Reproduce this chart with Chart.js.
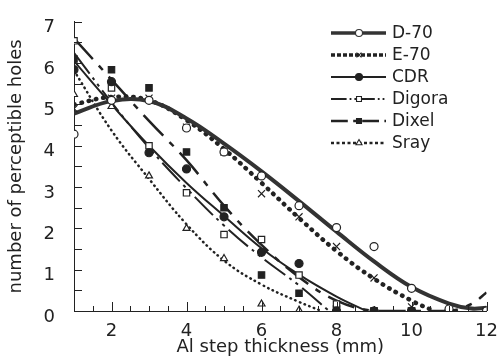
<!DOCTYPE html>
<html>
<head>
<meta charset="utf-8">
<script src="https://cdn.jsdelivr.net/npm/chart.js@4.4.1/dist/chart.umd.min.js"></script>
<style>
  html, body { margin: 0; padding: 0; background: #fff; }
  #wrap { width: 500px; height: 358px; }
</style>
</head>
<body>
<div id="wrap"><canvas id="c"></canvas></div>
<script>
// measured points (x = Al step, mm)
var steps = [1, 2, 3, 4, 5, 6, 7, 8, 9, 10, 11, 12];
var d70 = [4.28, 5.1, 5.1, 4.43, 3.85, 3.27, 2.55, 2.02, 1.56, 0.55, 0.05, 0];
var e70 = [4.9, 5.15, 5.15, 4.45, 3.85, 2.84, 2.28, 1.56, 0.8, 0.1, 0, 0];
var cdr = [5.84, 5.55, 3.83, 3.44, 2.28, 1.42, 1.15, 0, 0, 0, 0, 0];
var digora = [6.54, 5.4, 4.0, 2.86, 1.85, 1.73, 0.87, 0.17, 0, 0, 0, 0];
var dixel = [6.1, 5.84, 5.4, 3.85, 2.5, 0.87, 0.43, 0.05, 0, 0, 0, 0];
var sray = [5.24, 4.95, 3.27, 2.0, 1.27, 0.17, 0.02, 0, 0, 0, 0, 0];

// fitted curves
var d70FitX = [1, 2, 3, 4, 5, 6, 7, 8, 9, 10, 11, 11.6, 12];
var d70Fit = [4.78, 5.08, 5.08, 4.66, 4.05, 3.38, 2.66, 1.92, 1.2, 0.58, 0.18, 0.06, 0.08];
var e70FitX = [1, 2, 3, 4, 5, 6, 7, 8, 9, 10, 10.6];
var e70Fit = [5.0, 5.18, 5.1, 4.62, 3.92, 3.1, 2.25, 1.45, 0.78, 0.25, 0];
var cdrFitX = [1, 2, 3, 4, 5, 6, 7, 8, 8.8];
var cdrFit = [6.05, 5.0, 4.0, 3.1, 2.3, 1.52, 0.88, 0.35, 0];
var digoraFitX = [1, 2, 3, 4, 5, 6, 7, 7.8];
var digoraFit = [6.25, 5.05, 3.95, 2.97, 2.07, 1.3, 0.62, 0];
var dixelFitX = [1, 2, 3, 4, 5, 6, 7, 8, 9, 10, 11, 11.6, 12];
var dixelFit = [6.6, 5.6, 4.6, 3.65, 2.55, 1.6, 0.82, 0.25, 0, 0, 0, 0.17, 0.45];
var srayFitX = [1, 2, 3, 4, 5, 6, 7, 7.6];
var srayFit = [5.82, 4.37, 3.2, 2.1, 1.22, 0.64, 0.22, 0];

var xTicks = [2, 4, 6, 8, 10, 12];
var yTicks = [0, 1, 2, 3, 4, 5, 6, 7];

var ink = '#222';
var font = "'DejaVu Sans', sans-serif";

function pts(xs, ys) {
  return xs.map(function (x, i) { return { x: x, y: ys[i] }; });
}

// one entry per series: marker + line look
var series = [
  { label: 'D-70', pts: d70, fx: d70FitX, fy: d70Fit, style: 'circle', fill: '#fff', w: 4, dash: [], cap: 'butt' },
  { label: 'E-70', pts: e70, fx: e70FitX, fy: e70Fit, style: 'crossRot', fill: '#fff', w: 4.5, dash: [0.5, 7], cap: 'round' },
  { label: 'CDR', pts: cdr, fx: cdrFitX, fy: cdrFit, style: 'circle', fill: ink, w: 2, dash: [], cap: 'butt' },
  { label: 'Digora', pts: digora, fx: digoraFitX, fy: digoraFit, style: 'rect', fill: '#fff', w: 2, dash: [26, 5, 3, 5, 3, 5], cap: 'butt' },
  { label: 'Dixel', pts: dixel, fx: dixelFitX, fy: dixelFit, style: 'rect', fill: ink, w: 2.5, dash: [28, 9, 6, 9], cap: 'butt' },
  { label: 'Sray', pts: sray, fx: srayFitX, fy: srayFit, style: 'triangle', fill: '#fff', w: 2.5, dash: [0.5, 4.5], cap: 'round' }
];

var datasets = [];
series.forEach(function (s) {
  datasets.push({
    label: s.label,
    data: pts(steps, s.pts),
    showLine: false,
    pointStyle: s.style,
    pointRadius: s.style === 'rect' ? 4.5 : (s.style === 'crossRot' ? 5 : 4),
    pointBackgroundColor: s.fill,
    pointBorderColor: ink,
    pointBorderWidth: 1.2
  });
});
series.forEach(function (s) {
  datasets.push({
    label: s.label + ' fit',
    data: pts(s.fx, s.fy),
    showLine: true,
    pointRadius: 0,
    borderColor: s.label === 'D-70' ? '#333' : ink,
    borderWidth: s.w,
    borderDash: s.dash,
    borderCapStyle: s.cap,
    tension: 0.4,
    fill: false
  });
});

// inward tick marks on both axes
var tickMarks = {
  id: 'tickMarks',
  afterDraw: function (chart) {
    var ctx = chart.ctx, xs = chart.scales.x, ys = chart.scales.y, a = chart.chartArea;
    ctx.save();
    ctx.strokeStyle = ink;
    ctx.lineWidth = 1;
    for (var v = 0; v <= 7.001; v += 0.5) {
      var py = Math.round(ys.getPixelForValue(v)) + 0.5;
      ctx.beginPath(); ctx.moveTo(a.left, py); ctx.lineTo(a.left + 8, py); ctx.stroke();
    }
    for (var u = 1.5; u <= 12.001; u += 0.5) {
      var px = Math.round(xs.getPixelForValue(u)) + 0.5;
      var len = (u % 2 === 0) ? 9 : 5;
      ctx.beginPath(); ctx.moveTo(px, a.bottom); ctx.lineTo(px, a.bottom - len); ctx.stroke();
    }
    ctx.restore();
  }
};

// legend at upper right: line sample, marker, name
var sideLegend = {
  id: 'sideLegend',
  afterDraw: function (chart) {
    var ctx = chart.ctx;
    var rows = [33, 55, 77, 99, 121, 143];
    ctx.save();
    series.forEach(function (s, i) {
      var y = rows[i];
      ctx.strokeStyle = s.label === 'D-70' ? '#333' : ink;
      ctx.lineWidth = Math.min(s.w, 3.5);
      ctx.setLineDash(s.label === 'E-70' ? [4, 2] : (s.label === 'Sray' ? [3, 2.5] : s.dash.map(function (d) { return d * 0.6; })));
      ctx.lineCap = 'butt';
      ctx.beginPath(); ctx.moveTo(331, y); ctx.lineTo(386, y); ctx.stroke();
      ctx.setLineDash([]);
      ctx.fillStyle = s.fill;
      ctx.lineWidth = 1.1;
      Chart.helpers.drawPoint(ctx, { pointStyle: s.style, radius: 3.5, borderWidth: 1.1 }, 359, y);
      ctx.fillStyle = ink;
      ctx.font = '17px ' + font;
      ctx.textBaseline = 'middle';
      ctx.fillText(s.label, 392, y + 1);
    });
    ctx.restore();
  }
};

new Chart(document.getElementById('c'), {
  type: 'scatter',
  data: { datasets: datasets },
  options: {
    responsive: true,
    maintainAspectRatio: false,
    animation: false,
    layout: { padding: { top: 20, right: 11, left: 0, bottom: 0 } },
    plugins: { legend: { display: false }, tooltip: { enabled: false } },
    scales: {
      x: {
        type: 'linear', min: 1, max: 12,
        afterBuildTicks: function (sc) { sc.ticks = xTicks.map(function (v) { return { value: v }; }); },
        afterFit: function (sc) { sc.height = 47; },
        grid: { display: false },
        border: { display: true, color: ink, width: 1 },
        ticks: { color: ink, font: { family: font, size: 18 }, padding: 2, maxRotation: 0 },
        title: { display: true, text: 'Al step thickness (mm)', color: ink, font: { family: font, size: 18 }, padding: { top: -3, bottom: 0 } }
      },
      y: {
        type: 'linear', min: 0, max: 7,
        afterBuildTicks: function (sc) { sc.ticks = yTicks.map(function (v) { return { value: v }; }); },
        afterFit: function (sc) { sc.width = 74; },
        grid: { display: false },
        border: { display: true, color: ink, width: 1 },
        ticks: { color: ink, font: { family: font, size: 18 }, padding: 11, labelOffset: 6 },
        title: { display: true, text: 'number of perceptible holes', color: ink, font: { family: font, size: 18 }, padding: { top: 6, bottom: 0 } }
      }
    }
  },
  plugins: [tickMarks, sideLegend]
});
</script>
</body>
</html>
